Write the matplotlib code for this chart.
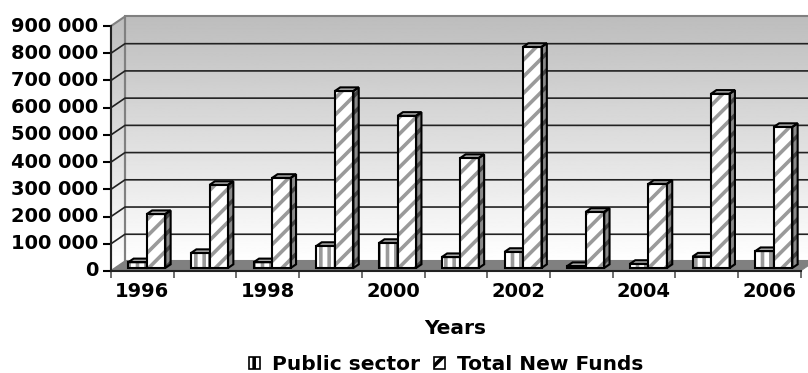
#!/usr/bin/env python3
"""Public sector and total new funds per year, drawn as pseudo-3D clustered bars."""

import numpy as np
import matplotlib.pyplot as plt
from matplotlib.patches import Patch, Polygon
from matplotlib.transforms import ScaledTranslation


YEARS = [1996, 1997, 1998, 1999, 2000, 2001, 2002, 2003, 2004, 2005, 2006]
PUBLIC_SECTOR = [21000, 55000, 21000, 81000, 92000, 40000, 59000, 7000, 15000, 42000, 62000]
TOTAL_NEW_FUNDS = [198000, 305000, 331000, 650000, 559000, 404000, 812000, 206000, 309000, 640000, 518000]
YEAR_LABELS = ["1996", "1998", "2000", "2002", "2004", "2006"]

Y_MAX = 900000
Y_STEP = 100000

# wall depth, in data units
DEPTH_X = 14 / 62.7
DEPTH_Y = 35000
BAR_W = 0.295

plt.rcParams["font.family"] = ["DejaVu Sans"]
plt.rcParams["font.weight"] = "bold"
plt.rcParams["hatch.linewidth"] = 2.6

W, H = 808, 373
fig = plt.figure(figsize=(W / 100, H / 100), dpi=100)
ax = fig.add_axes([111 / W, 1 - 271 / H, 689.7 / W, 245 / H])
n = len(YEARS)
ax.set_xlim(0, n)
ax.set_ylim(0, Y_MAX)


def gradient(extent, clip):
    shade = np.linspace(0.74, 1.0, 256).reshape(-1, 1)
    im = ax.imshow(shade, cmap="gray", vmin=0, vmax=1, extent=extent,
                   aspect="auto", origin="upper", zorder=0)
    im.set_clip_box(fig.bbox)
    im.set_clip_path(clip)
    return im


# back and side walls
back = Polygon([(DEPTH_X, DEPTH_Y), (n + DEPTH_X, DEPTH_Y),
                (n + DEPTH_X, Y_MAX + DEPTH_Y), (DEPTH_X, Y_MAX + DEPTH_Y)],
               closed=True, transform=ax.transData, fc="none", ec="#808080",
               lw=1.5, clip_on=False, zorder=1)
side = Polygon([(0, 0), (DEPTH_X, DEPTH_Y), (DEPTH_X, Y_MAX + DEPTH_Y), (0, Y_MAX)],
               closed=True, transform=ax.transData, fc="none", ec="#808080",
               lw=1.5, clip_on=False, zorder=1)
ax.add_patch(back)
ax.add_patch(side)
gradient([DEPTH_X, n + DEPTH_X, DEPTH_Y, Y_MAX + DEPTH_Y], back)
gradient([0, DEPTH_X, 0, Y_MAX + DEPTH_Y], side)

# gridlines run along the side wall and across the back wall
for v in range(Y_STEP, Y_MAX, Y_STEP):
    ax.plot([0, DEPTH_X, n + DEPTH_X], [v, v + DEPTH_Y, v + DEPTH_Y],
            color="#222222", lw=1.2, clip_on=False, zorder=2)

# floor
ax.add_patch(Polygon([(0, 0), (DEPTH_X, DEPTH_Y), (n + DEPTH_X, DEPTH_Y), (n, 0)],
                     closed=True, fc="#808080", ec="#808080", lw=0.5,
                     clip_on=False, zorder=3))


def draw_bar(x0, value, hatch, z):
    # bars stand a little way back from the front edge of the floor
    fx = 0.32 * DEPTH_X
    fy = 0.32 * DEPTH_Y
    dx = 0.38 * DEPTH_X
    dy = 0.38 * DEPTH_Y
    x0 = x0 + fx
    x1 = x0 + BAR_W
    y0 = fy
    y1 = fy + value
    front = [(x0, y0), (x1, y0), (x1, y1), (x0, y1)]
    right = [(x1, y0), (x1 + dx, y0 + dy), (x1 + dx, y1 + dy), (x1, y1)]
    top = [(x0, y1), (x1, y1), (x1 + dx, y1 + dy), (x0 + dx, y1 + dy)]
    ax.add_patch(Polygon(front, closed=True, fc="white", ec="#9a9a9a", lw=0,
                         hatch=hatch, clip_on=False, zorder=z))
    ax.add_patch(Polygon(right, closed=True, fc="#8a8a8a", ec="#444444", lw=0,
                         hatch=hatch, clip_on=False, zorder=z))
    ax.add_patch(Polygon(top, closed=True, fc="#b0b0b0", ec="black", lw=0,
                         clip_on=False, zorder=z))
    for face in (front, right, top):
        ax.add_patch(Polygon(face, closed=True, fc="none", ec="black", lw=1.5,
                             clip_on=False, zorder=z + 0.1))


for i in range(n):
    mid = i + 0.5
    draw_bar(mid - BAR_W, PUBLIC_SECTOR[i], "||", 4 + i)
    draw_bar(mid, TOTAL_NEW_FUNDS[i], "//", 4.5 + i)

# axes
for name in ("top", "right"):
    ax.spines[name].set_visible(False)
for name in ("left", "bottom"):
    ax.spines[name].set_linewidth(1.5)
    ax.spines[name].set_color("#222222")
    ax.spines[name].set_zorder(20)
ax.patch.set_visible(False)

y_ticks = list(range(0, Y_MAX + Y_STEP, Y_STEP))
ax.set_yticks(y_ticks)
ax.set_yticklabels([f"{v:,}".replace(",", " ") for v in y_ticks], fontsize=14)
ax.tick_params(axis="y", length=6, width=1.5, pad=3)
# sit the value labels slightly above their ticks
nudge = ScaledTranslation(0, 2 / 100, fig.dpi_scale_trans)
for label in ax.get_yticklabels():
    label.set_transform(label.get_transform() + nudge)

ax.set_xticks(range(n + 1))
ax.set_xticklabels([])
ax.tick_params(axis="x", which="major", length=5, width=1.2, color="#555555")
ax.set_xticks(np.arange(0, n, 2) + 0.5, minor=True)
ax.set_xticklabels(YEAR_LABELS, minor=True, fontsize=14)
ax.tick_params(axis="x", which="minor", length=0, pad=8)

fig.text(455 / W, 1 - 329 / H, "Years", ha="center", va="center", fontsize=14.5)

handles = [Patch(fc="white", ec="black", hatch="||", lw=1.2, label="Public sector"),
           Patch(fc="white", ec="black", hatch="//", lw=1.2, label="Total New Funds")]
fig.legend(handles=handles, loc="center", bbox_to_anchor=(446 / W, 1 - 365 / H),
           ncol=2, frameon=False, fontsize=14.5, handlelength=0.55, handleheight=0.55,
           handletextpad=0.6, columnspacing=0.7, borderpad=0)

fig.savefig("out.png", dpi=100)
